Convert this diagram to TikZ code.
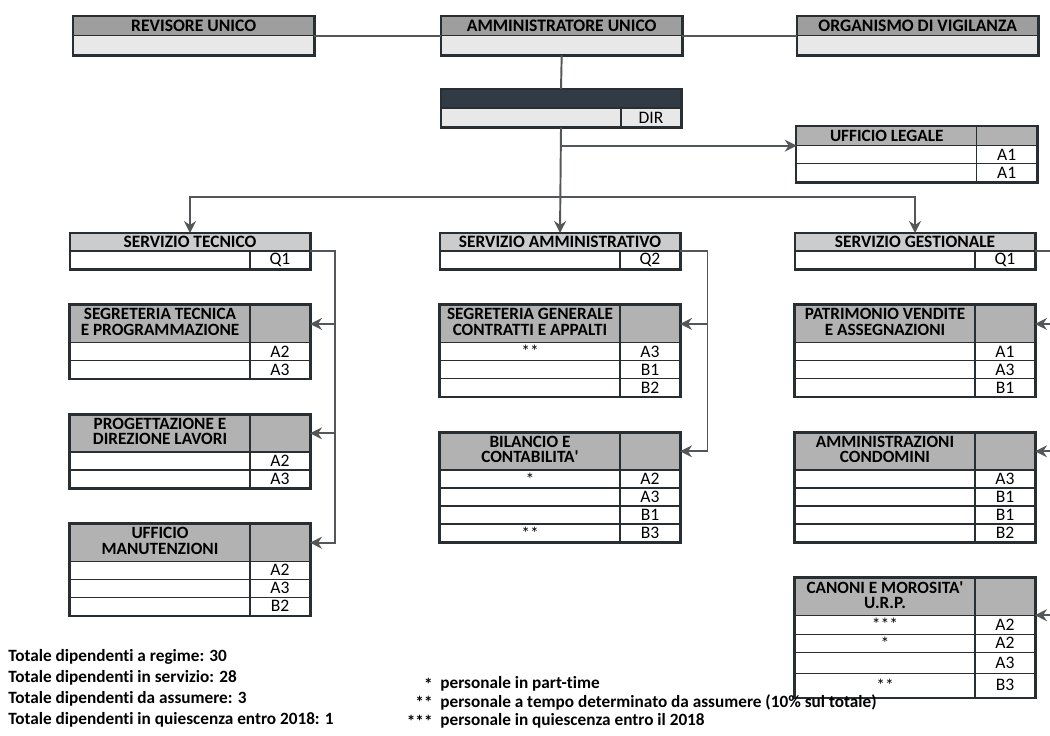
\documentclass[tikz,border=0pt]{standalone}
\usepackage{fontspec}
\setmainfont{Carlito}[Ligatures=NoCommon]
\usetikzlibrary{matrix,positioning,calc,arrows.meta}
\definecolor{ink}{rgb}{0.16,0.18,0.2}
\definecolor{linkc}{rgb}{0.33,0.34,0.35}
\definecolor{hgray}{rgb}{0.62,0.62,0.62}
\definecolor{sgray}{rgb}{0.8,0.8,0.8}
\definecolor{cgray}{rgb}{0.7,0.7,0.7}
\definecolor{pale}{rgb}{0.91,0.91,0.91}
\definecolor{dirc}{rgb}{0.19,0.23,0.27}
\newcommand{\twol}[2]{{\begin{tabular}{@{}c@{}}#1\\#2\end{tabular}}}
\tikzset{
  cell/.style={draw=ink, line width=0.8pt, fill=white, inner sep=0pt, outer sep=0pt,
    minimum height=3.6mm, anchor=center, font=\fontsize{10}{10}\selectfont},
  hcell/.style={fill=cgray, minimum height=7.4mm, font=\bfseries\fontsize{9.8}{7.6}\selectfont},
  grid/.style={matrix of nodes, nodes in empty cells, ampersand replacement=\&,
    column sep=-0.8pt, row sep=-0.8pt, inner sep=0pt, outer sep=0pt, nodes={cell},
    column 1/.style={nodes={minimum width=36mm}},
    column 2/.style={nodes={minimum width=12mm}}},
  office/.style={grid, draw=ink, line width=1.4pt, row 1/.style={nodes={hcell}}},
  topbox/.style={grid, draw=ink, line width=1.4pt,
    column 1/.style={nodes={minimum width=48mm, minimum height=3.8mm}},
    row 1/.style={nodes={fill=hgray, font=\bfseries\fontsize{10}{10}\selectfont}},
    row 2/.style={nodes={fill=pale}}},
  svhead/.style={draw=ink, line width=0.8pt, fill=sgray, inner sep=0pt, outer sep=0pt,
    minimum width=48mm, minimum height=3.6mm, font=\bfseries\fontsize{9.9}{9.9}\selectfont},
  dirhead/.style={svhead, fill=dirc, minimum height=3.8mm},
  frame/.style={draw=ink, line width=1.4pt},
  link/.style={draw=linkc, line width=1.1pt},
  feed/.style={link, -{Stealth[length=2.4mm,width=2.4mm,inset=0.8mm]}},
  note/.style={font=\bfseries\fontsize{9.8}{11}\selectfont, inner sep=0pt, anchor=west}
}
\begin{document}
\begin{tikzpicture}[x=0.2mm,y=-0.2mm]
\useasboundingbox (0,0) rectangle (1050,735);
% vertici
\matrix (rev) [topbox, anchor=north west] at (73,16) { REVISORE UNICO \\ {} \\ };
\matrix (amm) [topbox, anchor=north west] at (441,16) { AMMINISTRATORE UNICO \\ {} \\ };
\matrix (org) [topbox, anchor=north west] at (797,16) { ORGANISMO DI VIGILANZA \\ {} \\ };
\draw[link] (rev.east) -- (amm.west);
\draw[link] (amm.east) -- (org.west);
% direzione
\node[dirhead, anchor=north west] (dir) at (441,89) {};
\matrix (dirR) [grid, below=-0.4pt of dir, nodes={fill=pale, minimum height=3.8mm}] { \& DIR \\ };
\draw[frame] (dir.north west) rectangle (dirR.south east);
\draw[link] (amm.south) -- (dir.north);
\matrix (legale) [office, anchor=north west, row 1/.append style={nodes={minimum height=3.8mm}}] at (796,126) {
  UFFICIO LEGALE \& \\
  \& A1 \\
  \& A1 \\
};
% servizi
\foreach \n/\x/\t/\q in {st/70/SERVIZIO TECNICO/Q1, sam/440/SERVIZIO AMMINISTRATIVO/Q2, sg/795/SERVIZIO GESTIONALE/Q1} {
  \node[svhead, anchor=north west] (\n) at (\x,233) {\t};
  \matrix (\n-row) [grid, below=-0.4pt of \n] { \& \q \\ };
  \draw[frame] (\n.north west) rectangle (\n-row.south east);
}
\coordinate (forky) at (0,197);
\coordinate (fork) at (dirR.south |- forky);
\draw[feed] (dirR.south) -- (sam.north);
\draw[feed] (dirR.south |- legale-1-1.south) -- (legale-1-1.south west);
\draw[feed] (fork) -| (st.north);
\draw[feed] (fork) -| (sg.north);
% uffici servizio tecnico
\matrix (segtec) [office, below=7mm of st-row] {
  \twol{SEGRETERIA TECNICA}{E PROGRAMMAZIONE} \& \\
  \& A2 \\
  \& A3 \\
};
\matrix (prog) [office, below=7mm of segtec] {
  \twol{PROGETTAZIONE E}{DIREZIONE LAVORI} \& \\
  \& A2 \\
  \& A3 \\
};
\matrix (manut) [office, below=7mm of prog] {
  \twol{UFFICIO}{MANUTENZIONI} \& \\
  \& A2 \\
  \& A3 \\
  \& B2 \\
};
% uffici servizio amministrativo
\matrix (seggen) [office, below=7mm of sam-row] {
  \twol{SEGRETERIA GENERALE}{CONTRATTI E APPALTI} \& \\
  ** \& A3 \\
  \& B1 \\
  \& B2 \\
};
\matrix (bil) [office, below=7mm of seggen] {
  \twol{BILANCIO E}{CONTABILITA\textquotesingle} \& \\
  * \& A2 \\
  \& A3 \\
  \& B1 \\
  ** \& B3 \\
};
% uffici servizio gestionale
\matrix (patr) [office, below=7mm of sg-row] {
  \twol{PATRIMONIO VENDITE}{E ASSEGNAZIONI} \& \\
  \& A1 \\
  \& A3 \\
  \& B1 \\
};
\matrix (cond) [office, below=7mm of patr] {
  \twol{AMMINISTRAZIONI}{CONDOMINI} \& \\
  \& A3 \\
  \& B1 \\
  \& B1 \\
  \& B2 \\
};
\matrix (canoni) [office, below=7mm of cond, row 2/.style={nodes={minimum height=3.8mm}},
  row 4/.style={nodes={minimum height=4.2mm}}, row 5/.style={nodes={minimum height=4.8mm}}] {
  \twol{CANONI E MOROSITA\textquotesingle}{U.R.P.} \& \\
  *** \& A2 \\
  * \& A2 \\
  \& A3 \\
  ** \& B3 \\
};
% collegamenti
\coordinate (lbus) at ([xshift=5mm]st.south east);
\draw[feed] (st.south east) -- (lbus) |- (manut-1-2.east);
\foreach \b in {segtec,prog} \draw[feed] (lbus |- \b-1-2.east) -- (\b-1-2.east);
\coordinate (mbus) at ([xshift=5.5mm]sam.south east);
\draw[feed] (sam.south east) -- (mbus) |- (bil-1-2.east);
\draw[feed] (mbus |- seggen-1-2.east) -- (seggen-1-2.east);
\coordinate (rbus) at ([xshift=5mm]sg.south east);
\draw[link] (sg.south east) -- (rbus) -- (rbus |- canoni-1-2.south east);
\foreach \b in {patr,cond} \draw[feed] (rbus |- \b-1-2.east) -- (\b-1-2.east);
\draw[feed] (rbus |- canoni-1-2.south east) -- (canoni-1-2.south east);
% totali e legenda
\foreach \t [count=\i] in {Totale dipendenti a regime: 30, Totale dipendenti in servizio: 28,
    Totale dipendenti da assumere: 3, Totale dipendenti in quiescenza entro 2018: 1}
  \node[note] (tot\i) at (8,636+21*\i) {\t};
\foreach \s/\t [count=\i] in {*/personale in part-time,
    **/personale a tempo determinato da assumere (10\% sul totale),
    ***/personale in quiescenza entro il 2018} {
  \node[note, anchor=east] (star\i) at (433,665.5+18.5*\i) {\s};
  \node[note] (key\i) at (440,665.5+18.5*\i) {\t};
}
\end{tikzpicture}
\end{document}
